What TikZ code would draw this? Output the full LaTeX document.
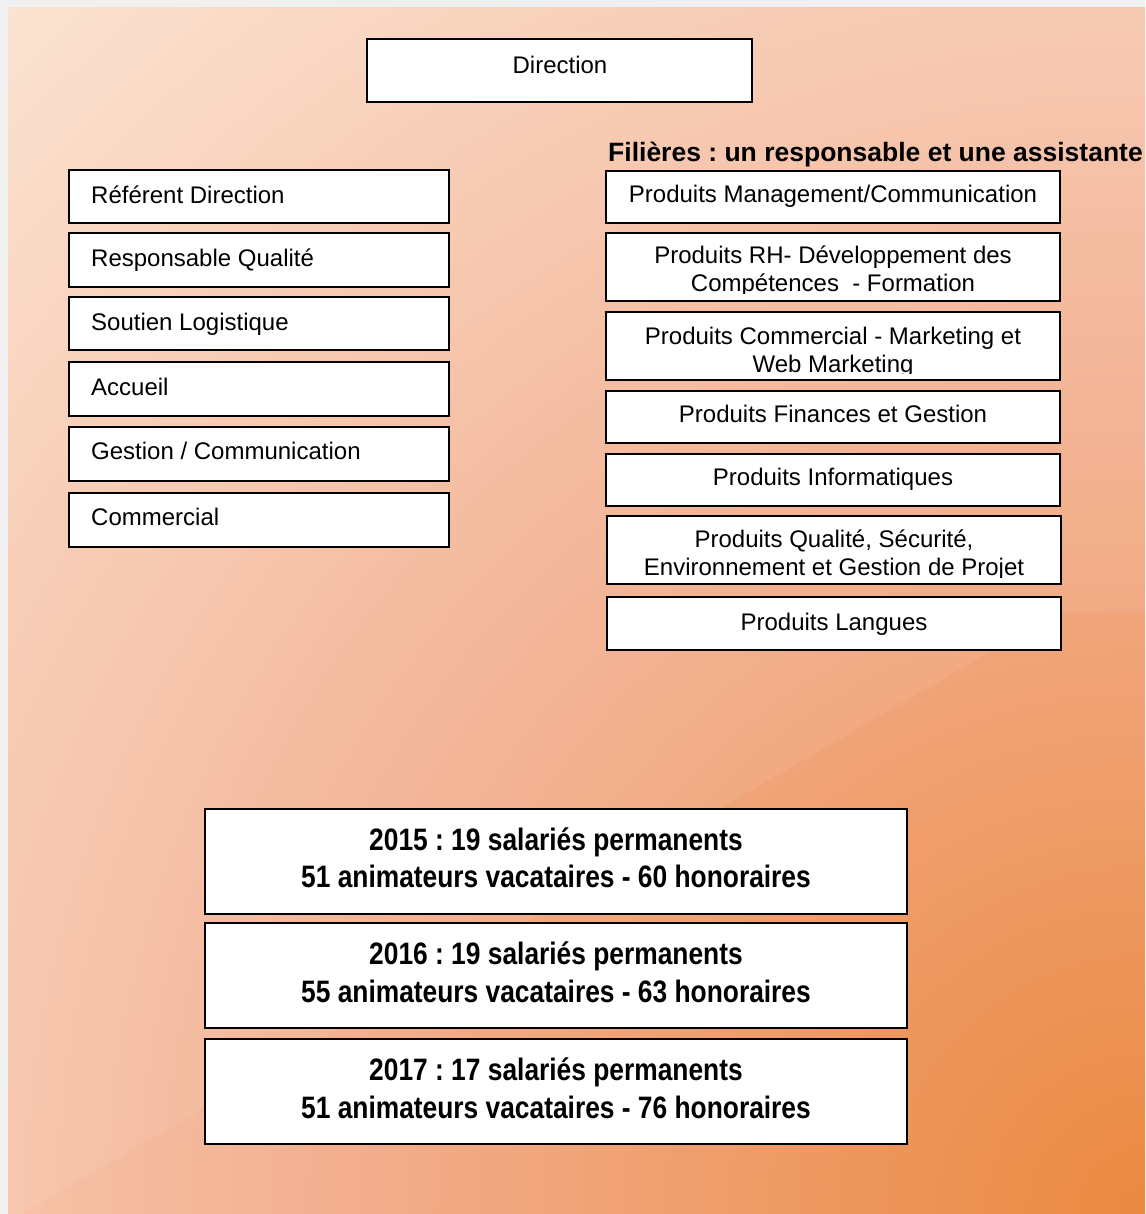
\documentclass[tikz,border=0pt]{standalone}
\usepackage{fontspec}
\setmainfont{Liberation Sans}
\newfontfamily\narrowfont[FakeStretch=0.85]{Liberation Sans}
\frenchspacing
\definecolor{bandgray}{HTML}{F0F0F0}
\definecolor{bgUL}{HTML}{FBE2CF}
\definecolor{bgMid}{HTML}{F3B091}
\definecolor{bgLR}{HTML}{EA8940}
\pgfdeclareradialshading{bgrad}{\pgfpoint{0bp}{0bp}}{color(0bp)=(bgLR); color(12.5bp)=(bgMid); color(25bp)=(bgUL); color(50bp)=(bgUL)}
\tikzset{
  box/.style={draw=black, line width=2pt, fill=white, inner sep=0pt, outer sep=0pt},
  txt/.style={font=\fontsize{24}{28}\selectfont, inner sep=0pt, anchor=base, text=black},
  ltxt/.style={txt, anchor=base west},
  hdr/.style={font=\fontsize{26.5}{30}\selectfont\bfseries, inner sep=0pt, anchor=base west},
  big/.style={font=\narrowfont\fontsize{31}{37}\selectfont\bfseries, inner sep=0pt, anchor=base}
}
\begin{document}
\begin{tikzpicture}[x=1pt,y=-1pt]
\useasboundingbox (0,0) rectangle (1145,1214);
% background
\fill[bandgray] (0,0) rectangle (1145,1214);
\begin{scope}
  \clip (8,8) rectangle (1145,1214);
  \shade[shading=bgrad] (1145,1214) circle (1660pt);
  \fill[white, opacity=0.07] (8,8) -- (1145,8) -- (1145,612) -- (1065,612) .. controls (1030,614) and (1010,640) .. (993,650) -- (21,1214) -- (8,1214) -- cycle;
\end{scope}

% Direction
\node[box, minimum width=385pt, minimum height=63pt] (dir) at (559.5,70.5) {};
\node[txt] (tdir) at (560,73.5) {Direction};

% left column
\node[box, minimum width=380pt, minimum height=53pt] (l1) at (259,196.5) {};
\node[box, minimum width=380pt, minimum height=54pt] (l2) at (259,260) {};
\node[box, minimum width=380pt, minimum height=53pt] (l3) at (259,323.5) {};
\node[box, minimum width=380pt, minimum height=54pt] (l4) at (259,389) {};
\node[box, minimum width=380pt, minimum height=54pt] (l5) at (259,454) {};
\node[box, minimum width=380pt, minimum height=54pt] (l6) at (259,520) {};
\node[ltxt] (tl1) at (91,203.5) {Référent Direction};
\node[ltxt] (tl2) at (91,266.5) {Responsable Qualité};
\node[ltxt] (tl3) at (91,330.5) {Soutien Logistique};
\node[ltxt] (tl4) at (91,395.5) {Accueil};
\node[ltxt] (tl5) at (91,459.5) {Gestion / Communication};
\node[ltxt] (tl6) at (91,525.5) {Commercial};

% right column
\node[hdr] (hd) at (608,162) {Filières : un responsable et une assistante};
\node[box, minimum width=454pt, minimum height=52pt] (r1) at (833,197) {};
\node[box, minimum width=454pt, minimum height=68pt] (r2) at (833,267) {};
\node[box, minimum width=454pt, minimum height=68pt] (r3) at (833,346) {};
\node[box, minimum width=454pt, minimum height=52pt] (r4) at (833,417) {};
\node[box, minimum width=454pt, minimum height=52pt] (r5) at (833,480) {};
\node[box, minimum width=454pt, minimum height=68pt] (r6) at (834,550) {};
\node[box, minimum width=454pt, minimum height=53pt] (r7) at (834,623.5) {};
\node[txt] (tr1) at (833,202.2) {Produits Management/Communication};
\begin{scope}
  \clip (607,234) rectangle (1059,294);
  \node[txt] (tr2a) at (833,264) {Produits RH- Développement des};
  \node[txt] (tr2b) at (833,292) {Compétences\ \ - Formation};
\end{scope}
\begin{scope}
  \clip (607,313) rectangle (1059,373.5);
  \node[txt] (tr3a) at (833,344) {Produits Commercial - Marketing et};
  \node[txt] (tr3b) at (833,372) {Web Marketing};
\end{scope}
\node[txt] (tr4) at (833,422.5) {Produits Finances et Gestion};
\node[txt] (tr5) at (833,485.3) {Produits Informatiques};
\begin{scope}
  \clip (608,517) rectangle (1060,577);
  \node[txt] (tr6a) at (834,547.5) {Produits Qualité, Sécurité,};
  \node[txt] (tr6b) at (834,575.3) {Environnement et Gestion de Projet};
\end{scope}
\node[txt] (tr7) at (834,630) {Produits Langues};

% bottom boxes
\node[box, minimum width=702pt, minimum height=105pt] (b1) at (556,861.5) {};
\node[box, minimum width=702pt, minimum height=105pt] (b2) at (556,975.5) {};
\node[box, minimum width=702pt, minimum height=105pt] (b3) at (556,1091.5) {};
\node[big] (tb1a) at (556,850) {2015 : 19 salariés permanents};
\node[big] (tb1b) at (556,887.5) {51 animateurs vacataires - 60 honoraires};
\node[big] (tb2a) at (556,964.5) {2016 : 19 salariés permanents};
\node[big] (tb2b) at (556,1002) {55 animateurs vacataires - 63 honoraires};
\node[big] (tb3a) at (556,1080.5) {2017 : 17 salariés permanents};
\node[big] (tb3b) at (556,1118) {51 animateurs vacataires - 76 honoraires};
\end{tikzpicture}
\end{document}
